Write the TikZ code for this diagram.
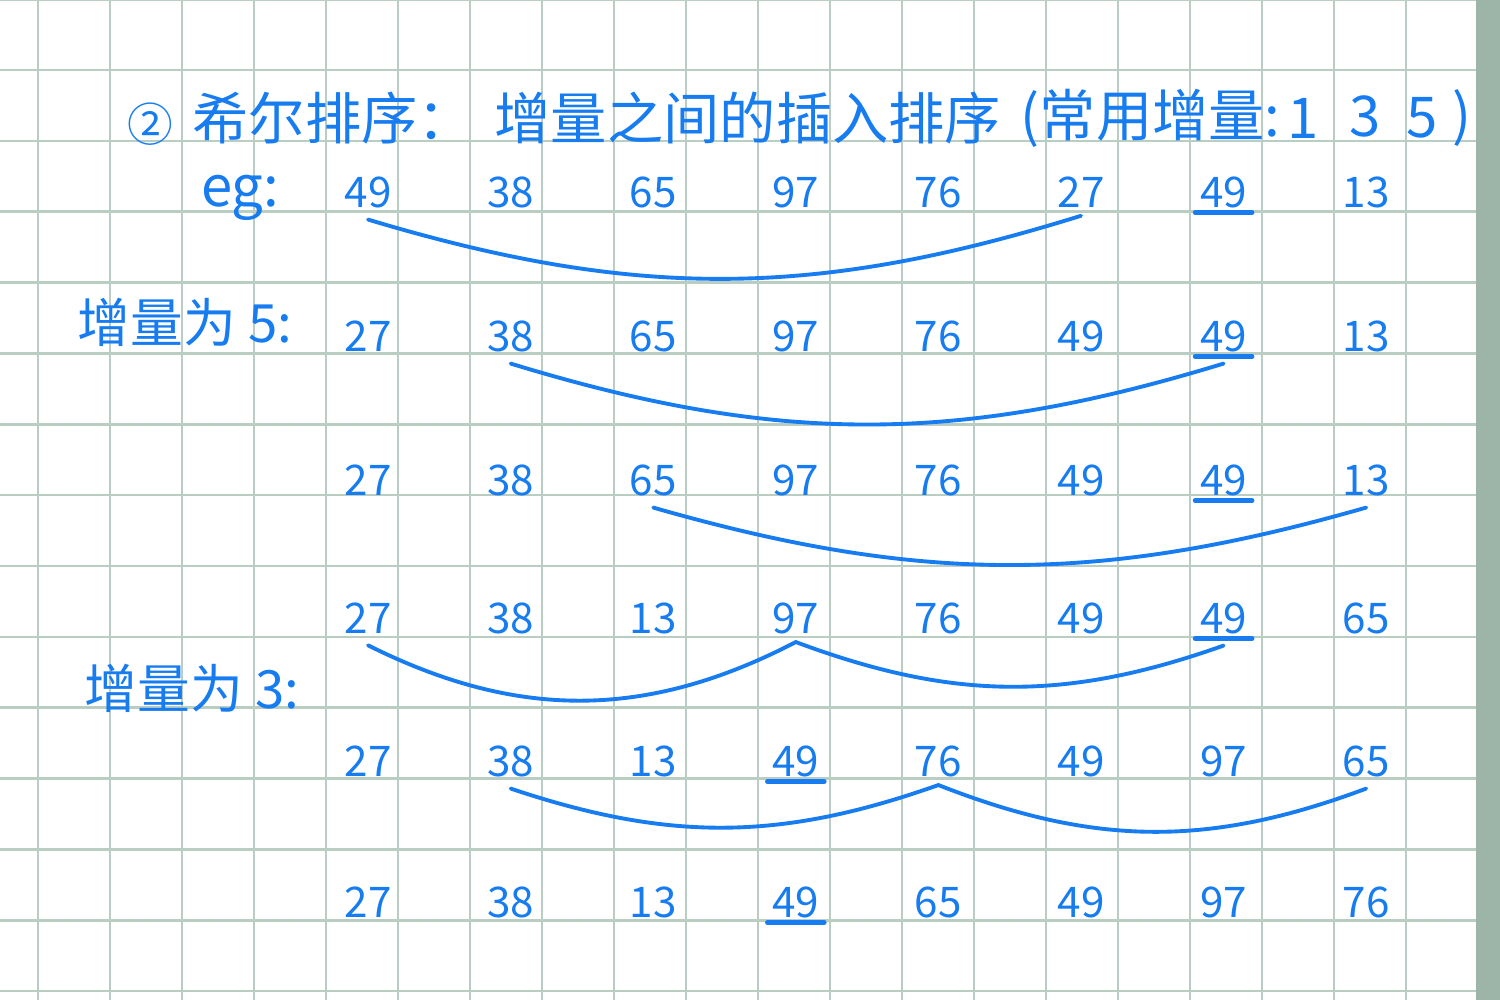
\documentclass[tikz,border=0pt]{standalone}
\usepackage{fontspec}
\newfontfamily\cjk{Noto Sans CJK SC}
\definecolor{penblue}{RGB}{22,124,240}
\definecolor{gridgreen}{RGB}{186,205,195}
\definecolor{edgegreen}{RGB}{157,181,168}
\tikzset{
  num/.style={font=\cjk\fontsize{12}{14}\selectfont, text=penblue, inner sep=1.2pt},
  hanzi/.style={font=\cjk\fontsize{16}{19}\selectfont, text=penblue, inner sep=0pt},
  arcline/.style={penblue, line width=1.1pt, line cap=round},
  keyline/.style={penblue, line width=1.4pt, line cap=round},
}

\begin{document}
\begin{tikzpicture}[x=0.01cm, y=-0.01cm]
    \useasboundingbox (0,0) rectangle (1500,1000);
    % 方格纸
    \fill[white] (0,0) rectangle (1500,1000);
    \foreach \i in {0,...,19} {
         \draw[gridgreen, line width=0.75pt] ({38+72*\i},0) -- ({38+72*\i},1000);
    }
    \foreach \j in {0,...,14} {
          \draw[gridgreen, line width=0.75pt] (0,{-0.8+70.85*\j}) -- (1476,{-0.8+70.85*\j});
    }
    \fill[edgegreen] (1476,0) rectangle (1500,1000);
    % 标题
    \node[hanzi, font=\cjk\fontsize{13}{15}\selectfont] (circ) at (150,124) {②};
    \node[hanzi, anchor=west] (title) at (192,118) {希尔排序：};
    \node[hanzi, anchor=west] (desc) at (494,118) {增量之间的插入排序};
    \node[hanzi, anchor=west] (note) at (1020,118) {(常用增量:};
    \node[hanzi] (s1) at (1303,118) {1};
    \node[hanzi] (s3) at (1365,116) {3};
    \node[hanzi] (s5) at (1422,118) {5};
    \node[hanzi] (rp) at (1462,118) {)};
    \node[hanzi] (eg) at (240,198) {eg:};
    \node[hanzi, font=\cjk\fontsize{15}{18}\selectfont] (gap5) at (185,322) {增量为 5:};
    \node[hanzi, font=\cjk\fontsize{15}{18}\selectfont] (gap3) at (192,688) {增量为 3:};
    % 各行数据
    \foreach \v [count=\i] in {49,38,65,97,76,27,49,13}
        \node[num] (a\i) at ({368+142.6*(\i-1)},192) {\v};
    \foreach \v [count=\i] in {27,38,65,97,76,49,49,13}
        \node[num] (b\i) at ({368+142.6*(\i-1)},336) {\v};
    \foreach \v [count=\i] in {27,38,65,97,76,49,49,13}
        \node[num] (c\i) at ({368+142.6*(\i-1)},480) {\v};
    \foreach \v [count=\i] in {27,38,13,97,76,49,49,65}
        \node[num] (d\i) at ({368+142.6*(\i-1)},618) {\v};
    \foreach \v [count=\i] in {27,38,13,49,76,49,97,65}
        \node[num] (e\i) at ({368+142.6*(\i-1)},761) {\v};
    \foreach \v [count=\i] in {27,38,13,49,65,49,97,76}
        \node[num] (f\i) at ({368+142.6*(\i-1)},902) {\v};
    % 下划线
    \foreach \n in {a7,b7,c7,d7,e4,f4}
        \draw[keyline] (\n.south west) -- (\n.south east);
    % 比较的弧线
    \draw[arcline] ([yshift=-2pt]a1.south) to[bend right=17] ([yshift=-1pt]a6.south);
    \draw[arcline] ([yshift=-2pt]b2.south) to[bend right=17] ([yshift=-2pt]b7.south);
    \draw[arcline] ([yshift=-2pt]c3.south) to[bend right=16] ([yshift=-2pt]c8.south);
    \draw[arcline] ([yshift=-2pt]d1.south) to[bend right=27] ([yshift=-1pt]d4.south)
        to[bend right=20] ([yshift=-2pt]d7.south);
    \draw[arcline] ([yshift=-2pt]e2.south) to[bend right=19] ([yshift=-1pt]e5.south)
        to[bend right=21] ([yshift=-2pt]e8.south);
\end{tikzpicture}
\end{document}
